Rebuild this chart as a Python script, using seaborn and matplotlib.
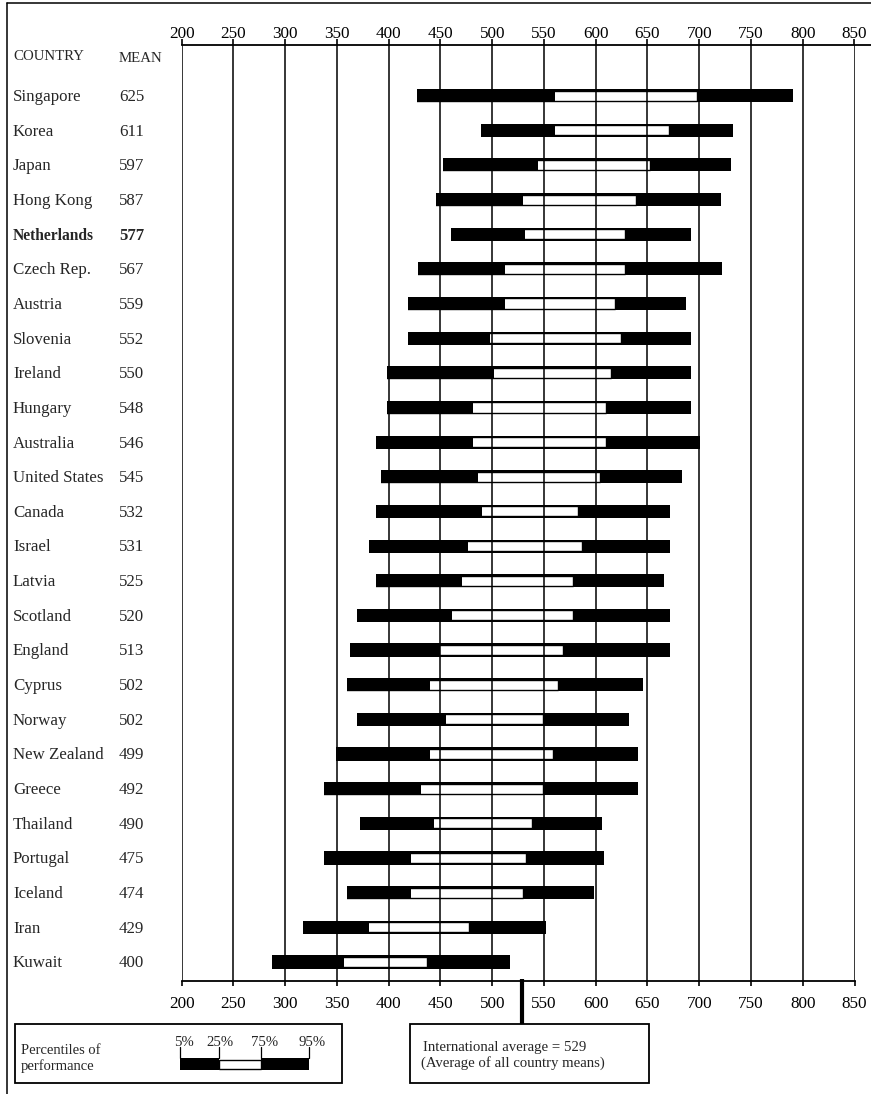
import numpy as np
import pandas as pd
import matplotlib
matplotlib.use("Agg")
import matplotlib.pyplot as plt
import seaborn as sns
from matplotlib.transforms import blended_transform_factory
from matplotlib.patches import Rectangle
from matplotlib.lines import Line2D

# ---------------- data ----------------
countries = ["Singapore", "Korea", "Japan", "Hong Kong", "Netherlands", "Czech Rep.",
             "Austria", "Slovenia", "Ireland", "Hungary", "Australia", "United States",
             "Canada", "Israel", "Latvia", "Scotland", "England", "Cyprus", "Norway",
             "New Zealand", "Greece", "Thailand", "Portugal", "Iceland", "Iran", "Kuwait"]
means = [625, 611, 597, 587, 577, 567, 559, 552, 550, 548, 546, 545, 532, 531, 525,
         520, 513, 502, 502, 499, 492, 490, 475, 474, 429, 400]
p5 = [427, 489, 452, 446, 460, 428, 419, 419, 398, 398, 388, 393, 388, 381, 388,
      369, 363, 360, 369, 349, 337, 372, 337, 360, 317, 287]
p25 = [561, 561, 544, 530, 532, 512, 512, 498, 502, 481, 481, 486, 490, 477, 471,
       461, 450, 440, 455, 440, 431, 444, 422, 422, 381, 357]
p75 = [698, 671, 652, 639, 628, 628, 619, 624, 615, 610, 610, 604, 583, 587, 578,
       578, 568, 564, 549, 559, 549, 538, 533, 530, 478, 437]
p95 = [791, 733, 731, 721, 692, 722, 687, 692, 692, 692, 701, 683, 672, 672, 666,
       672, 672, 646, 632, 641, 641, 606, 608, 598, 552, 517]
highlight = "Netherlands"
intl_avg = 529
x_ticks = [200, 250, 300, 350, 400, 450, 500, 550, 600, 650, 700, 750, 800, 850]
legend_labels = ["5%", "25%", "75%", "95%"]

# ---------------- style ----------------
sns.set_style("white")
plt.rcParams['font.family'] = ['Liberation Serif', 'DejaVu Serif']

W, H = 871, 1094
def fx(px):
    return px / W
def fy(py):
    return 1 - py / H

fig = plt.figure(figsize=(W / 100, H / 100), dpi=100)
ax_left, ax_right = 181.7, 854.5
ax_top, ax_bot = 45, 981
ax = fig.add_axes([fx(ax_left), fy(ax_bot), (ax_right - ax_left) / W, (ax_bot - ax_top) / H])

df = pd.DataFrame({"country": countries, "mean": means,
                   "p5": p5, "p25": p25, "p75": p75, "p95": p95})

BIG = 0.38
SMALL = 0.29
# layered bars: 0->p95 black, 0->p75 white box, 0->p25 black, 0->p5 white mask
sns.barplot(data=df, x="p95", y="country", order=countries, orient="h",
            color="black", saturation=1, width=BIG, errorbar=None,
            edgecolor="none", linewidth=0, zorder=2, ax=ax)
sns.barplot(data=df, x="p75", y="country", order=countries, orient="h",
            color="white", saturation=1, width=SMALL, errorbar=None,
            edgecolor="black", linewidth=1.0, zorder=3, ax=ax)
sns.barplot(data=df, x="p25", y="country", order=countries, orient="h",
            color="black", saturation=1, width=BIG, errorbar=None,
            edgecolor="none", linewidth=0, zorder=4, ax=ax)
sns.barplot(data=df, x="p5", y="country", order=countries, orient="h",
            color="white", saturation=1, width=BIG + 0.04, errorbar=None,
            edgecolor="none", linewidth=0, zorder=5, ax=ax)

for v in x_ticks:
    ax.axvline(v, color="black", lw=1.1, zorder=10)

ax.set_xlim(200, 850)
ax.set_ylim(25.55, -1.46)
ax.set_yticks([])
ax.set_xlabel("")
ax.set_ylabel("")
ax.set_xticks(x_ticks)
for s in ["left", "right", "top"]:
    ax.spines[s].set_visible(False)
ax.spines["bottom"].set_linewidth(1.3)
ax.spines["bottom"].set_color("black")
ax.tick_params(axis="x", bottom=True, top=False, direction="out", length=3.5,
               width=1.2, color="black", pad=7.5, labelsize=12.3, labelcolor="black")

secax = ax.secondary_xaxis("top")
secax.set_xticks(x_ticks)
secax.tick_params(axis="x", direction="out", length=4, width=1.2, color="black",
                  pad=-1.5, labelsize=12.3, labelcolor="black")
secax.spines["top"].set_linewidth(1.3)
secax.spines["top"].set_color("black")

# extend top rule to the right edge
fig.add_artist(Line2D([fx(ax_right), 1], [fy(ax_top), fy(ax_top)], color="black", lw=1.3))

# country and mean columns
trans = blended_transform_factory(fig.transFigure, ax.transData)
for i, (c, m) in enumerate(zip(countries, means)):
    bold = (c == highlight)
    ax.text(fx(13), i + 0.04, c, transform=trans, va="center", ha="left",
            fontsize=11.2 if bold else 12.2, fontweight="bold" if bold else "normal")
    ax.text(fx(119), i + 0.04, str(m), transform=trans, va="center", ha="left",
            fontsize=12.0 if bold else 12.2, fontweight="bold" if bold else "normal")

fig.text(fx(13), fy(56.5), "COUNTRY", fontsize=10.7, va="center", ha="left")
fig.text(fx(119), fy(58), "MEAN", fontsize=10.7, va="center", ha="left")

# international average marker
trans2 = blended_transform_factory(ax.transData, fig.transFigure)
ax.plot([intl_avg, intl_avg], [fy(979), fy(1024)], transform=trans2, clip_on=False,
        color="black", lw=3, solid_capstyle="butt", zorder=12)

# international average box
fig.add_artist(Rectangle((fx(410), fy(1083)), (649 - 410) / W, (1083 - 1024) / H,
                         transform=fig.transFigure, fill=False, ec="black", lw=1.3))
fig.text(fx(423), fy(1047.5), f"International average = {intl_avg}", fontsize=10.6,
         va="center", ha="left")
fig.text(fx(421), fy(1063), "(Average of all country means)", fontsize=10.6,
         va="center", ha="left")

# percentile legend box
fig.add_artist(Rectangle((fx(15), fy(1083)), (342 - 15) / W, (1083 - 1024) / H,
                         transform=fig.transFigure, fill=False, ec="black", lw=1.3))
fig.text(fx(21), fy(1050.5), "Percentiles of", fontsize=10.5, va="center", ha="left")
fig.text(fx(21), fy(1066), "performance", fontsize=10.5, va="center", ha="left")
key_x = [180, 219, 261, 309]
fig.add_artist(Rectangle((fx(key_x[0]), fy(1070)), (key_x[1] - key_x[0]) / W, 12 / H,
                         transform=fig.transFigure, fc="black", ec="none"))
fig.add_artist(Rectangle((fx(key_x[1]), fy(1068.5)), (key_x[2] - key_x[1]) / W, 9 / H,
                         transform=fig.transFigure, fc="white", ec="black", lw=1.0))
fig.add_artist(Rectangle((fx(key_x[2]), fy(1070)), (key_x[3] - key_x[2]) / W, 12 / H,
                         transform=fig.transFigure, fc="black", ec="none"))
label_x = [183.5, 220, 264.5, 312]
for kx, lx, lab in zip(key_x, label_x, legend_labels):
    fig.add_artist(Line2D([fx(kx), fx(kx)], [fy(1047), fy(1058)], color="black", lw=0.9))
    fig.text(fx(lx), fy(1042), lab, fontsize=10.6, va="center", ha="center")

# page frame (left and top edges)
fig.add_artist(Line2D([fx(7), fx(7)], [fy(3), 0], color="black", lw=1.1))
fig.add_artist(Line2D([fx(7), 1], [fy(3), fy(3)], color="black", lw=1.1))

fig.savefig("out.png", dpi=100)
